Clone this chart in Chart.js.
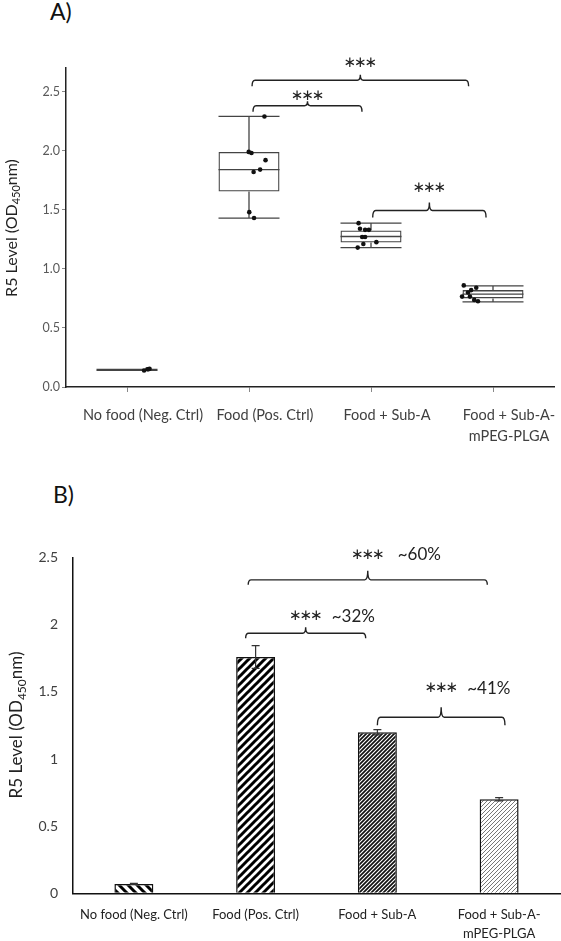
<!DOCTYPE html>
<html>
<head>
<meta charset="utf-8">
<script src="https://cdn.jsdelivr.net/npm/chart.js@4.4.1/dist/chart.umd.min.js"></script>
<style>
  html, body { margin: 0; padding: 0; background: #fff; }
  body { width: 561px; height: 941px; position: relative; overflow: hidden; font-family: Lato, sans-serif; }
  .panel { position: absolute; left: 0; width: 561px; }
  #wrapA { top: 0; height: 460px; }
  #wrapB { top: 460px; height: 481px; }
  .tag { position: absolute; font-size: 23px; line-height: 23px; color: #111; }
</style>
</head>
<body>
<div class="tag" style="left:50px; top:0px;">A)</div>
<div class="tag" style="left:53px; top:483px;">B)</div>
<div class="panel" id="wrapA"><canvas id="chartA"></canvas></div>
<div class="panel" id="wrapB"><canvas id="chartB"></canvas></div>

<script>
// categories shared by both panels
const categories = ['No food (Neg. Ctrl)', 'Food (Pos. Ctrl)', 'Food + Sub-A', ['Food + Sub-A-', 'mPEG-PLGA']];

// Panel A - box plot summary
const boxMin    = [0.14, 1.43, 1.18, 0.72];
const boxQ1     = [0.14, 1.655, 1.223, 0.75];
const boxMedian = [0.142, 1.84, 1.274, 0.786];
const boxQ3     = [0.145, 1.99, 1.325, 0.82];
const boxMax    = [0.148, 2.29, 1.387, 0.856];

// Panel A - individual replicates and their horizontal jitter
const pointValues = [
    [0.14, 0.15, 0.155, 0.15],
    [2.29, 1.99, 1.98, 1.92, 1.84, 1.82, 1.48, 1.43],
    [1.387, 1.34, 1.33, 1.33, 1.27, 1.27, 1.226, 1.21, 1.18],
    [0.86, 0.84, 0.82, 0.80, 0.765, 0.765, 0.737, 0.726]
];
const pointJitter = [
    [-0.03, 0.0, 0.02, 0.01],
    [0.08, -0.065, -0.04, 0.09, 0.04, -0.02, -0.06, -0.016],
    [-0.052, -0.039, 0.008, 0.043, -0.019, 0.008, 0.112, -0.008, -0.06],
    [-0.082, 0.033, -0.014, -0.043, -0.098, -0.025, 0.014, 0.049]
];
const yTicksA = [0, 0.5, 1, 1.5, 2, 2.5];

// Panel B - bar means and error
const barMeans  = [0.07, 1.76, 1.20, 0.70];
const barErrors = [0.004, 0.085, 0.02, 0.012];
const yTicksB = [0, 0.5, 1, 1.5, 2, 2.5];

// significance brackets
const starLabel = '***';
const pctLabels = ['~32%', '~60%', '~41%'];
const bracketsA = [
    { from: 1.033, to: 1.926, y: 2.38,  tip: 6, notch: 4.5, labelDy: 10 },
    { from: 1.025, to: 2.80,  y: 2.596, tip: 6, notch: 5.5, labelDy: 17 },
    { from: 2.014, to: 2.943, y: 1.494, tip: 7, notch: 8,   labelDy: 22 }
];
const bracketsB = [
    { from: 0.918, to: 1.904, y: 1.937, tip: 5, notch: 6,  labelDy: 17, pct: 0, pctDx: 26 },
    { from: 0.939, to: 2.903, y: 2.335, tip: 5, notch: 9,  labelDy: 25, pct: 1, pctDx: 30 },
    { from: 2.0,   to: 3.048, y: 1.311, tip: 8, notch: 10, labelDy: 29, pct: 2, pctDx: 26 }
];

function makeHatch(size, dir, width, color) {
    const c = document.createElement('canvas');
    c.width = size; c.height = size;
    const g = c.getContext('2d');
    g.fillStyle = '#fff';
    g.fillRect(0, 0, size, size);
    g.strokeStyle = color;
    g.lineWidth = width;
    g.beginPath();
    if (dir === '/') {
        g.moveTo(0, size); g.lineTo(size, 0);
        g.moveTo(-2, 2); g.lineTo(2, -2);
        g.moveTo(size - 2, size + 2); g.lineTo(size + 2, size - 2);
    } else {
        g.moveTo(0, 0); g.lineTo(size, size);
        g.moveTo(-2, size - 2); g.lineTo(2, size + 2);
        g.moveTo(size - 2, -2); g.lineTo(size + 2, 2);
    }
    g.stroke();
    return g.createPattern(c, 'repeat');
}

function yTitle(cx, cy, size) {
    return {
        id: 'yTitle',
        afterDraw(chart) {
            const ctx = chart.ctx;
            const main = size + 'px Lato, sans-serif';
            const sub = Math.round(size * 0.68) + 'px Lato, sans-serif';
            const parts = [['R5 Level (OD', main, 0], ['450', sub, size * 0.28], ['nm)', main, 0]];
            let total = 0;
            parts.forEach(p => { ctx.font = p[1]; total += ctx.measureText(p[0]).width; });
            ctx.save();
            ctx.translate(cx, cy);
            ctx.rotate(-Math.PI / 2);
            ctx.fillStyle = '#222';
            ctx.textBaseline = 'middle';
            let x = -total / 2;
            parts.forEach(p => {
                ctx.font = p[1];
                ctx.fillText(p[0], x, p[2]);
                x += ctx.measureText(p[0]).width;
            });
            ctx.restore();
        }
    };
}

function bracketPlugin(items, withPct) {
    return {
        id: 'brackets',
        afterDraw(chart) {
            const { ctx, scales: { x, y } } = chart;
            ctx.save();
            ctx.strokeStyle = '#222';
            ctx.fillStyle = '#222';
            ctx.lineWidth = 1.4;
            items.forEach(b => {
                const x1 = x.getPixelForValue(b.from);
                const x2 = x.getPixelForValue(b.to);
                const xm = (x1 + x2) / 2;
                const py = y.getPixelForValue(b.y);
                const r = 3;
                ctx.beginPath();
                ctx.moveTo(x1, py + b.tip);
                ctx.quadraticCurveTo(x1, py, x1 + r, py);
                ctx.lineTo(xm - r, py);
                ctx.quadraticCurveTo(xm, py, xm, py - b.notch);
                ctx.quadraticCurveTo(xm, py, xm + r, py);
                ctx.lineTo(x2 - r, py);
                ctx.quadraticCurveTo(x2, py, x2, py + b.tip);
                ctx.stroke();

                const ly = py - b.labelDy;
                ctx.font = '15px "DejaVu Sans", sans-serif';
                ctx.textAlign = 'center';
                ctx.textBaseline = 'middle';
                for (let k = 0; k < starLabel.length; k++) {
                    ctx.fillText('\u2217', xm + (k - 1) * 10.5, ly);
                }
                if (withPct) {
                    ctx.font = '17px Lato, sans-serif';
                    ctx.textAlign = 'left';
                    ctx.fillText(pctLabels[b.pct], xm + b.pctDx, ly);
                }
            });
            ctx.restore();
        }
    };
}

const boxWhiskers = {
    id: 'boxWhiskers',
    beforeDatasetsDraw(chart) {
        const meta = chart.getDatasetMeta(1);
        const y = chart.scales.y;
        const ctx = chart.ctx;
        ctx.save();
        ctx.strokeStyle = '#444';
        ctx.lineWidth = 1.3;
        meta.data.forEach((bar, i) => {
            const half = bar.width / 2;
            const cx = bar.x;
            ctx.beginPath();
            [boxMin[i], boxMedian[i], boxMax[i]].forEach(v => {
                const py = y.getPixelForValue(v);
                ctx.moveTo(cx - half, py);
                ctx.lineTo(cx + half, py);
            });
            ctx.moveTo(cx, y.getPixelForValue(boxMin[i]));
            ctx.lineTo(cx, y.getPixelForValue(boxQ1[i]));
            ctx.moveTo(cx, y.getPixelForValue(boxQ3[i]));
            ctx.lineTo(cx, y.getPixelForValue(boxMax[i]));
            ctx.stroke();
        });
        ctx.restore();
    }
};

const errorBars = {
    id: 'errorBars',
    afterDatasetsDraw(chart) {
        const meta = chart.getDatasetMeta(0);
        const y = chart.scales.y;
        const ctx = chart.ctx;
        ctx.save();
        ctx.strokeStyle = '#333';
        ctx.lineWidth = 1.2;
        meta.data.forEach((bar, i) => {
            const top = y.getPixelForValue(barMeans[i] + barErrors[i]);
            const bot = y.getPixelForValue(barMeans[i] - barErrors[i]);
            ctx.beginPath();
            ctx.moveTo(bar.x, top); ctx.lineTo(bar.x, bot);
            ctx.moveTo(bar.x - 4, top); ctx.lineTo(bar.x + 4, top);
            ctx.moveTo(bar.x - 4, bot); ctx.lineTo(bar.x + 4, bot);
            ctx.stroke();
        });
        ctx.restore();
    }
};

// ---------- Panel A ----------
const scatterData = [];
pointValues.forEach((vals, i) => {
    vals.forEach((v, k) => scatterData.push({ x: i + pointJitter[i][k], y: v }));
});

new Chart(document.getElementById('chartA'), {
    type: 'bar',
    data: {
        labels: categories,
        datasets: [{
            type: 'scatter',
            label: 'Replicates',
            data: scatterData,
            xAxisID: 'xp',
            pointRadius: 2.3,
            pointBackgroundColor: '#111',
            pointBorderWidth: 0,
            order: 1
        }, {
            label: 'IQR',
            data: boxQ1.map((q, i) => [q, boxQ3[i]]),
            xAxisID: 'x',
            grouped: false,
            backgroundColor: 'rgba(255,255,255,0)',
            borderColor: '#444',
            borderWidth: 1.3,
            borderSkipped: false,
            barPercentage: 0.5,
            categoryPercentage: 1,
            order: 2
        }]
    },
    options: {
        responsive: true,
        maintainAspectRatio: false,
        animation: false,
        layout: { padding: { left: 0, right: 7, top: 68, bottom: 0 } },
        plugins: { legend: { display: false }, tooltip: { enabled: false } },
        scales: {
            x: {
                type: 'category',
                grid: { drawOnChartArea: false, offset: false, tickLength: 5, color: '#888' },
                border: { color: '#222', width: 1.5 },
                ticks: {
                    color: '#404040',
                    font: { family: 'Lato', size: 14.5, lineHeight: 1.45 },
                    padding: 13,
                    labelOffset: 16,
                    maxRotation: 0,
                    autoSkip: false
                },
                afterFit: s => { s.height = 73; }
            },
            xp: { type: 'linear', display: false, min: -0.5, max: 3.5 },
            y: {
                min: 0,
                max: 2.7,
                afterBuildTicks: s => { s.ticks = yTicksA.map(v => ({ value: v })); },
                grid: { drawOnChartArea: false, tickLength: 4, color: '#888' },
                border: { color: '#222', width: 1.5 },
                ticks: {
                    color: '#595959',
                    font: { family: 'Lato', size: 12.5 },
                    padding: 2,
                    callback: v => v.toFixed(1)
                },
                afterFit: s => { s.width = 66; }
            }
        }
    },
    plugins: [boxWhiskers, bracketPlugin(bracketsA, false), yTitle(12, 228, 16)]
});

// ---------- Panel B ----------
const barFills = [
    makeHatch(9, '\\', 3, '#000'),
    makeHatch(8, '/', 3, '#000'),
    makeHatch(4, '/', 1.7, '#111'),
    makeHatch(4, '/', 1, '#777')
];

new Chart(document.getElementById('chartB'), {
    type: 'bar',
    data: {
        labels: categories,
        datasets: [{
            label: 'R5 Level',
            data: barMeans,
            backgroundColor: barFills,
            borderColor: '#111',
            borderWidth: 1.5,
            barPercentage: 0.32,
            categoryPercentage: 1
        }]
    },
    options: {
        responsive: true,
        maintainAspectRatio: false,
        animation: false,
        layout: { padding: { left: 0, right: 1, top: 97.7, bottom: 0 } },
        plugins: { legend: { display: false }, tooltip: { enabled: false } },
        scales: {
            x: {
                grid: { drawOnChartArea: false, drawTicks: false },
                border: { color: '#111', width: 1.5 },
                ticks: {
                    color: '#222',
                    font: { family: 'Lato', size: 13, lineHeight: 1.46 },
                    padding: 12,
                    maxRotation: 0,
                    autoSkip: false
                },
                afterFit: s => { s.height = 47.7; }
            },
            y: {
                min: 0,
                max: 2.5,
                afterBuildTicks: s => { s.ticks = yTicksB.map(v => ({ value: v })); },
                grid: { drawOnChartArea: false, drawTicks: false },
                border: { color: '#111', width: 1.5 },
                ticks: {
                    color: '#404040',
                    font: { family: 'Lato', size: 14 },
                    padding: 15,
                    callback: v => String(v)
                },
                afterFit: s => { s.width = 73; }
            }
        }
    },
    plugins: [errorBars, bracketPlugin(bracketsB, true), yTitle(17, 265, 17)]
});
</script>
</body>
</html>
